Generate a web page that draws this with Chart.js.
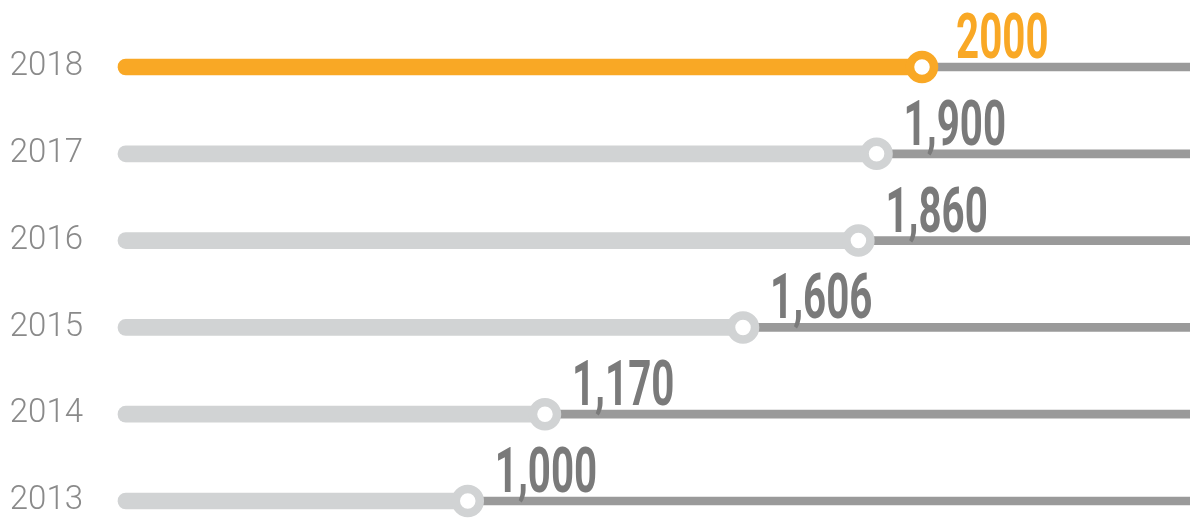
<!DOCTYPE html>
<html>
<head>
<meta charset="utf-8">
<script src="https://cdn.jsdelivr.net/npm/chart.js@4/dist/chart.umd.min.js"></script>
<style>
  body { margin: 0; background: #fff; }
  #wrap { width: 1190px; height: 518px; }
</style>
</head>
<body>
<div id="wrap"><canvas id="myChart"></canvas></div>
<script>
const years = ["2018", "2017", "2016", "2015", "2014", "2013"];
const values = [2000, 1900, 1860, 1606, 1170, 1000];
const valueLabels = ["2000", "1,900", "1,860", "1,606", "1,170", "1,000"];
const axisMin = 230;
const axisMax = 2590;

const orange = "#f9a825";
const lightGray = "#d1d3d4";
const lineGray = "#9a9a9a";

// value labels next to each point
const valueLabelPlugin = {
  id: "valueLabels",
  afterDatasetsDraw(chart) {
    const ctx = chart.ctx;
    const pts = chart.getDatasetMeta(0).data;
    ctx.save();
    ctx.font = "bold 63px Roboto";
    ctx.textBaseline = "alphabetic";
    ctx.textAlign = "left";
    pts.forEach((p, i) => {
      ctx.save();
      ctx.fillStyle = i === 0 ? orange : "#7a7a7a";
      ctx.translate(p.x + (i === 0 ? 34 : 27), p.y - 9);
      ctx.scale(0.64, 1);
      ctx.fillText(valueLabels[i], 0, 0);
      ctx.restore();
    });
    ctx.restore();
  },
};

new Chart(document.getElementById("myChart"), {
  type: "bar",
  data: {
    labels: years,
    datasets: [
      {
        type: "line",
        data: values,
        showLine: false,
        pointRadius: 12,
        pointHoverRadius: 12,
        pointBorderWidth: 8.5,
        pointBackgroundColor: "#fff",
        pointBorderColor: years.map((y, i) => (i === 0 ? orange : lightGray)),
        clip: false,
      },
      {
        data: values,
        base: axisMin,
        barThickness: 16,
        grouped: false,
        borderSkipped: false,
        borderRadius: 8,
        backgroundColor: years.map((y, i) => (i === 0 ? orange : lightGray)),
        clip: false,
      },
      {
        data: values.map((v) => [v, axisMax]),
        barThickness: 8,
        grouped: false,
        backgroundColor: lineGray,
        clip: false,
      },
    ],
  },
  plugins: [valueLabelPlugin],
  options: {
    indexAxis: "y",
    responsive: true,
    maintainAspectRatio: false,
    animation: false,
    layout: { autoPadding: false, padding: { top: 67, bottom: 17, left: 0, right: 0 } },
    plugins: {
      legend: { display: false },
      tooltip: { enabled: false },
    },
    events: [],
    scales: {
      x: {
        type: "linear",
        min: axisMin,
        max: axisMax,
        display: false,
      },
      y: {
        offset: false,
        grid: { display: false, drawTicks: false },
        border: { display: false },
        ticks: {
          padding: 35,
          color: "#8a8a8a",
          font: { family: "Roboto", weight: "300", size: 33 },
        },
        afterFit(scale) {
          scale.width = 118;
          scale.paddingTop = 0;
          scale.paddingBottom = 0;
        },
      },
    },
  },
});
</script>
</body>
</html>
